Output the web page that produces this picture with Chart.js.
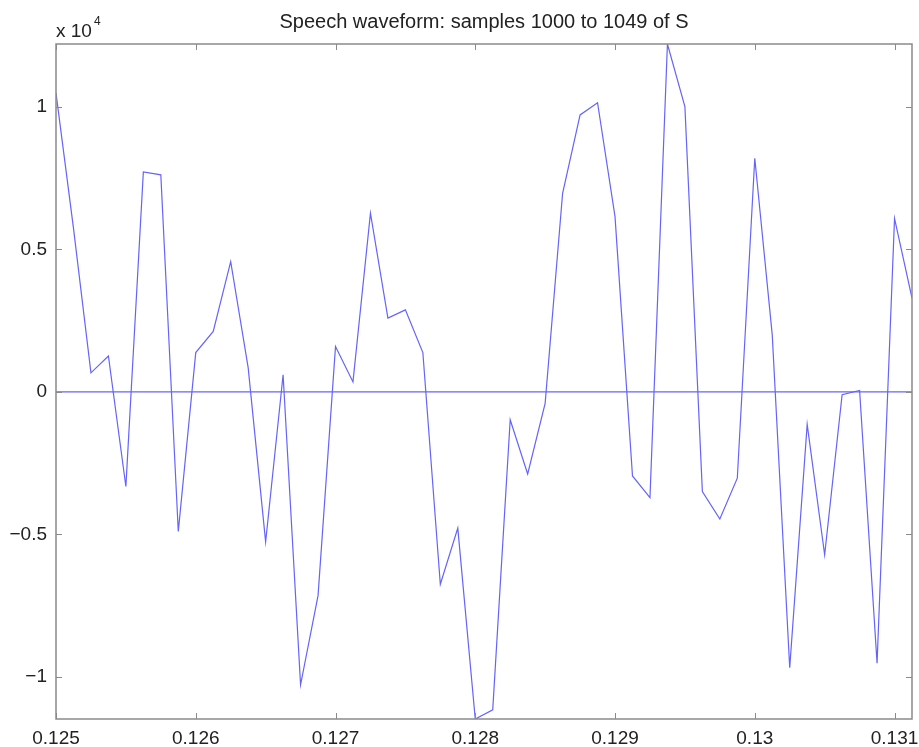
<!DOCTYPE html>
<html>
<head>
<meta charset="utf-8">
<script src="https://cdn.jsdelivr.net/npm/chart.js@4"></script>
<style>
  html, body { margin: 0; padding: 0; background: #fff; }
  #wrap { width: 919px; height: 747px; }
</style>
</head>
<body>
<div id="wrap"><canvas id="speech"></canvas></div>
<script>
// time of each sample (s), samples 1000..1049 at 8 kHz
const times = [0.125, 0.125125, 0.12525, 0.125375, 0.1255, 0.125625, 0.12575, 0.125875,
  0.126, 0.126125, 0.12625, 0.126375, 0.1265, 0.126625, 0.12675, 0.126875,
  0.127, 0.127125, 0.12725, 0.127375, 0.1275, 0.127625, 0.12775, 0.127875,
  0.128, 0.128125, 0.12825, 0.128375, 0.1285, 0.128625, 0.12875, 0.128875,
  0.129, 0.129125, 0.12925, 0.129375, 0.1295, 0.129625, 0.12975, 0.129875,
  0.13, 0.130125, 0.13025, 0.130375, 0.1305, 0.130625, 0.13075, 0.130875,
  0.131, 0.131125];
const S = [10490, 5750, 670, 1260, -3320, 7720, 7620, -4900,
  1380, 2120, 4570, 850, -5260, 600, -10280, -7150,
  1590, 350, 6270, 2590, 2880, 1380, -6750, -4780,
  -11480, -11160, -980, -2880, -400, 6970, 9720, 10150,
  6150, -2950, -3710, 12210, 10010, -3500, -4460, -3030,
  8200, 2000, -9680, -1140, -5720, -100, 50, -9520,
  6090, 3290];
const xTicks = [0.125, 0.126, 0.127, 0.128, 0.129, 0.13, 0.131];
const yTicks = [-10000, -5000, 0, 5000, 10000];
const yTickLabels = ["\u22121", "\u22120.5", "0", "0.5", "1"];

const blue = "rgb(100,100,250)";
const frame = "#8a8a8a";
const font = "'Liberation Sans', Arial, Helvetica, sans-serif";

const matlabBox = {
  id: 'matlabBox',
  afterDraw(chart) {
    const ctx = chart.ctx, a = chart.chartArea;
    const xs = chart.scales.x, ys = chart.scales.y;
    ctx.save();
    ctx.strokeStyle = frame;
    ctx.lineWidth = 1.5;
    ctx.strokeRect(a.left, a.top, a.right - a.left, a.bottom - a.top);
    ctx.lineWidth = 1;
    ctx.beginPath();
    xs.ticks.forEach(t => {
      const px = Math.round(xs.getPixelForValue(t.value)) + 0.5;
      ctx.moveTo(px, a.bottom); ctx.lineTo(px, a.bottom - 6);
      ctx.moveTo(px, a.top); ctx.lineTo(px, a.top + 6);
    });
    ys.ticks.forEach(t => {
      const py = Math.round(ys.getPixelForValue(t.value)) + 0.5;
      ctx.moveTo(a.left, py); ctx.lineTo(a.left + 6, py);
      ctx.moveTo(a.right, py); ctx.lineTo(a.right - 6, py);
    });
    ctx.stroke();
    // exponent label
    ctx.fillStyle = "#222";
    ctx.textBaseline = "alphabetic";
    ctx.textAlign = "left";
    ctx.font = "19px " + font;
    ctx.fillText("x 10", a.left, a.top - 7);
    ctx.font = "12px " + font;
    ctx.fillText("4", a.left + 38, a.top - 19);
    ctx.restore();
  }
};

new Chart(document.getElementById("speech"), {
  type: 'line',
  data: {
    datasets: [{
      label: 'S',
      data: times.map((t, i) => ({x: t, y: S[i]})),
      borderColor: blue,
      borderWidth: 1.2,
      pointRadius: 0,
      tension: 0,
      fill: false
    }, {
      label: 'zero',
      data: [{x: times[0], y: 0}, {x: times[times.length - 1], y: 0}],
      borderColor: blue,
      borderWidth: 1.2,
      pointRadius: 0,
      fill: false
    }]
  },
  options: {
    responsive: true,
    maintainAspectRatio: false,
    animation: false,
    layout: { padding: { left: 0, right: 7, top: 0, bottom: 0 } },
    plugins: {
      legend: { display: false },
      tooltip: { enabled: false },
      title: {
        display: true,
        fullSize: false,
        text: 'Speech waveform: samples 1000 to 1049 of S',
        color: '#222',
        font: { family: font, size: 20, weight: 'normal' },
        padding: { top: 10, bottom: 10 }
      }
    },
    scales: {
      x: {
        type: 'linear',
        min: times[0],
        max: times[times.length - 1],
        afterBuildTicks: s => { s.ticks = xTicks.map(v => ({value: v})); },
        afterFit: s => { s.height = 28; s.paddingLeft = 0; s.paddingRight = 0; },
        grid: { display: false, tickLength: 0 },
        border: { display: false },
        ticks: {
          color: '#222',
          padding: 8,
          maxRotation: 0,
          autoSkip: false,
          font: { family: font, size: 19 },
          callback: v => String(+v.toFixed(3))
        }
      },
      y: {
        type: 'linear',
        min: Math.min(...S),
        max: Math.max(...S),
        afterBuildTicks: s => { s.ticks = yTicks.map(v => ({value: v})); },
        afterFit: s => { s.width = 56; s.paddingTop = 0; s.paddingBottom = 0; },
        grid: { display: false, tickLength: 0 },
        border: { display: false },
        ticks: {
          color: '#222',
          padding: 9,
          autoSkip: false,
          font: { family: font, size: 19 },
          callback: v => yTickLabels[yTicks.indexOf(v)]
        }
      }
    }
  },
  plugins: [matlabBox]
});
</script>
</body>
</html>
